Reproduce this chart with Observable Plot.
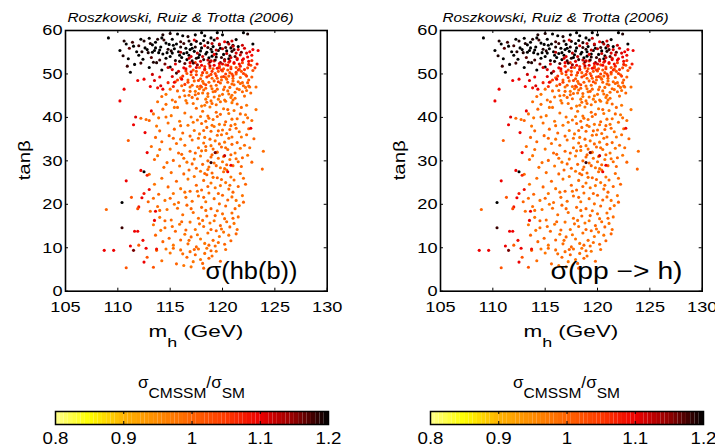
<!DOCTYPE html>
<html><head><meta charset="utf-8">
<script src="https://cdn.jsdelivr.net/npm/d3@7"></script>
<script src="https://cdn.jsdelivr.net/npm/@observablehq/plot@0.6"></script>
<style>
body{margin:0;background:#fff;}
#root{position:relative;width:715px;height:447px;overflow:hidden;}
#root > div{position:absolute;top:0;}
#root svg{overflow:visible;font-family:"Liberation Sans";}
#root svg text{font-family:"Liberation Sans";}
</style></head><body><div id="root"></div>
<script>
const xTicks = [105,110,115,120,125,130];
const yTicks = [0,10,20,30,40,50,60];
const cbTicks = [0.8,0.9,1,1.1,1.2];
const cbStops = [0.8,0.85,0.9,1.0,1.05,1.1,1.15,1.2];
const cbColors = ["#ffff8c","#ffff00","#ffb400","#ff6400","#ff3a00","#ee0000","#930000","#000000"];
const credit = "Roszkowski, Ruiz & Trotta (2006)";
const panelLabels = ["σ(hb(b))","σ(pp −> h)"];

// [m_h (GeV), tanβ, σ_CMSSM/σ_SM]
const orangePts = [
[116.3,46.2,1.0],[116.8,45.1,0.99],[117.1,47.4,1.01],[117.4,46.0,0.98],[117.6,44.3,1.0],[117.9,48.9,1.02],[118.1,45.6,0.99],[118.2,47.8,1.0],[118.4,46.7,1.01],[118.6,44.8,0.98],
[118.7,49.6,1.02],[118.9,47.2,1.0],[119.1,45.9,0.99],[119.2,48.4,1.01],[119.3,50.1,1.03],[119.5,46.5,1.0],[119.6,44.2,0.98],[119.8,47.9,1.01],[119.9,49.3,1.02],[120.0,45.3,0.99],
[120.1,51.2,1.03],[120.2,47.0,1.0],[120.4,48.8,1.01],[120.5,46.1,0.99],[120.7,50.3,1.02],[120.8,44.6,0.98],[120.9,47.7,1.0],[121.0,49.0,1.01],[121.2,45.8,0.99],[121.3,51.5,1.03],
[121.5,48.2,1.0],[121.6,46.4,0.99],[121.8,50.6,1.02],[122.0,47.3,1.0],[122.2,49.8,1.01],[122.4,51.4,1.03],[122.6,47.0,0.99],[122.9,50.8,1.02],[117.0,49.8,1.01],[117.5,50.6,1.02],
[118.3,50.9,1.02],[118.8,51.4,1.03],[119.7,51.8,1.03],[120.3,52.1,1.04],[121.1,52.4,1.04],[121.9,52.6,1.04],[116.6,50.1,1.02],[116.0,49.1,1.01],[115.5,48.2,1.0],[115.0,46.5,0.99],
[114.6,45.3,0.98],[115.9,44.7,0.99],[116.5,43.9,0.98],[117.2,43.2,0.99],[118.0,42.6,0.98],[118.5,43.5,1.0],[119.4,42.9,0.99],[120.3,43.7,0.98],[121.4,43.1,1.0],[122.1,44.9,0.99],
[122.7,45.6,1.0],[123.2,47.0,0.99],[120.6,49.5,1.01],[119.0,49.0,1.0],[118.0,49.7,1.01],[121.7,49.2,1.0],[120.0,50.7,1.02],[117.8,51.5,1.03],[122.3,46.2,0.99],[121.1,47.5,1.0],
[119.9,48.6,1.0],[118.7,48.1,1.01],[117.3,48.4,1.0],[116.9,47.0,0.99],[118.2,46.3,1.0],[119.4,47.4,1.0],[120.6,45.4,0.99],[121.9,45.9,1.0],[119.7,45.0,0.98],[118.9,43.8,0.99],
[120.9,43.4,0.98],[117.7,45.5,1.0],[116.1,47.3,1.0],[122.5,48.6,1.01],[121.4,46.6,1.0],[120.2,44.0,0.99],[118.4,44.2,0.98],[117.2,50.9,1.02],[118.5,50.3,1.01],[119.6,50.6,1.02],
[120.8,51.6,1.03],[121.6,51.1,1.02],[122.7,52.0,1.03],[119.1,51.2,1.02],[120.5,50.9,1.02],[121.3,50.0,1.01],[118.1,48.3,1.0],[119.5,49.0,1.01],[120.3,49.2,1.0],[121.9,48.0,1.0],
[117.6,47.1,1.0],[119.0,46.6,0.99],[120.7,46.9,1.0],[122.2,46.9,0.99],[116.7,48.6,1.01],[115.2,44.0,0.99],[115.4,42.3,0.98],[114.2,44.8,1.0],[113.8,43.6,0.99],[122.5,47.2,1.0],
[116.9,46.0,1.0],[117.8,46.6,0.99],[118.6,45.5,1.0],[119.3,46.0,1.01],[120.1,46.4,1.0],[120.9,45.1,0.99],[121.7,47.8,1.0],[122.4,48.0,1.01],[119.8,43.6,0.99],[118.3,42.8,0.98],
[117.1,44.6,1.0],[121.2,44.4,0.99],[117.4,45.2,1.0],[119.2,44.7,0.99],[120.5,48.1,1.01],[121.0,48.4,1.0],[118.0,47.0,1.0],[122.8,49.3,1.01],[116.4,45.0,0.99],[115.7,46.1,1.0],
// tanβ 35-43
[113.4,40.8,0.99],[113.9,39.9,0.98],[114.3,41.9,1.0],[114.8,38.7,0.99],[115.1,40.4,0.98],[115.4,37.3,1.0],[115.7,42.3,0.99],[115.9,39.1,0.98],[116.2,36.4,1.0],[116.4,41.0,0.99],
[116.7,38.2,0.98],[116.9,35.7,1.0],[117.0,40.1,0.99],[117.3,37.0,0.98],[117.5,42.1,1.0],[117.6,39.4,0.99],[117.8,36.2,0.98],[118.0,38.6,1.0],[118.1,41.4,0.99],[118.3,35.4,0.98],
[118.5,37.7,1.0],[118.6,40.3,0.99],[118.8,42.4,0.98],[118.9,36.8,1.0],[119.1,39.5,0.99],[119.2,37.9,0.98],[119.4,41.2,1.0],[119.5,35.9,0.99],[119.7,38.4,0.98],[119.8,40.7,1.0],
[120.0,37.1,0.99],[120.1,42.0,0.98],[120.3,39.0,1.0],[120.4,36.3,0.99],[120.6,40.9,0.98],[120.8,38.1,1.0],[120.9,35.5,0.99],[121.1,41.6,0.98],[121.3,37.5,1.0],[121.4,39.7,0.99],
[121.6,36.7,0.98],[121.8,42.3,1.0],[122.0,38.9,0.99],[122.2,40.6,0.98],[122.5,37.4,1.0],[122.8,39.3,0.99],[123.2,41.8,0.98],[114.0,36.9,1.0],[114.6,43.0,0.99],[113.7,38.0,0.98],
[115.5,43.6,1.0],[116.6,43.3,0.99],[117.9,40.2,0.98],[119.0,43.2,1.0],[121.0,44.0,0.99],[122.3,42.8,0.98],[115.3,35.2,1.0],[116.0,38.1,0.99],[117.2,38.9,0.98],[118.4,39.1,1.0],
[119.9,36.0,0.99],[121.2,38.4,0.98],[120.5,41.8,1.0],[122.3,36.0,0.99],[112.2,39.8,1.0],[112.7,39.5,0.99],[113.0,39.3,1.0],[114.6,40.1,0.99],[111.0,34.7,1.01],[113.6,35.4,1.0],
[118.2,37.0,1.0],[119.0,38.2,0.99],[119.6,36.9,1.0],[120.2,38.3,0.99],[120.7,37.2,1.0],[118.7,39.8,0.99],[119.5,40.2,1.0],[120.9,39.6,0.99],[121.7,40.8,1.0],[117.7,35.2,0.99],
[123.0,35.1,1.0],[122.4,39.9,0.99],[114.9,35.8,1.0],
// tanβ 28-35
[113.2,33.3,0.99],[113.8,31.2,0.98],[114.2,34.4,1.0],[114.7,29.6,0.99],[115.0,32.7,0.98],[115.3,30.1,1.0],[115.6,34.0,0.99],[115.9,28.8,0.98],[116.1,31.5,1.0],[116.4,33.6,0.99],
[116.6,29.7,0.98],[116.9,32.2,1.0],[117.1,34.8,0.99],[117.3,30.4,0.98],[117.5,28.3,1.0],[117.7,33.0,0.99],[117.9,31.1,0.98],[118.1,29.2,1.0],[118.2,34.1,0.99],[118.4,32.4,0.98],
[118.6,30.0,1.0],[118.7,28.6,0.99],[118.9,33.5,0.98],[119.0,31.4,1.0],[119.2,29.5,0.99],[119.3,34.6,0.98],[119.5,32.0,1.0],[119.6,30.6,0.99],[119.8,28.4,0.98],[119.9,33.2,1.0],
[120.1,31.0,0.99],[120.2,34.3,0.98],[120.4,29.1,1.0],[120.5,32.6,0.99],[120.7,30.3,0.98],[120.9,33.8,1.0],[121.0,28.9,0.99],[121.2,31.8,0.98],[121.4,34.2,1.0],[121.5,29.8,0.99],
[121.7,32.9,0.98],[121.9,30.7,1.0],[122.1,33.6,0.99],[122.4,31.3,0.98],[122.8,29.7,1.0],[123.9,32.2,0.99],[123.8,28.1,1.0],[114.4,28.5,0.99],[116.0,35.0,0.98],[118.8,35.0,1.0],
[120.6,35.2,0.99],[121.8,35.5,0.98],[117.4,31.8,1.0],[119.4,31.9,0.99],[120.0,29.8,0.98],[113.5,30.3,1.0],[114.0,32.6,0.99],[118.4,33.3,1.0],[119.1,32.7,0.99],[119.7,33.9,1.0],
[120.3,33.0,0.99],[120.8,31.4,1.0],[121.3,30.5,0.99],[118.9,30.9,1.0],[118.0,32.3,0.99],[117.1,29.3,1.0],[116.3,30.6,0.99],[119.4,28.9,1.0],[120.2,28.2,0.99],[121.8,28.7,1.0],
[122.6,33.0,0.99],[115.8,31.8,1.0],
// tanβ 20-28
[113.0,26.9,0.99],[113.5,24.6,0.98],[113.9,22.3,1.0],[114.2,26.0,0.99],[114.5,20.9,0.98],[114.8,24.0,1.0],[115.1,27.3,0.99],[115.3,22.5,0.98],[115.6,25.3,1.0],[115.8,20.4,0.99],
[116.0,23.6,0.98],[116.3,27.0,1.0],[116.5,21.6,0.99],[116.7,25.8,0.98],[116.9,23.0,1.0],[117.1,20.7,0.99],[117.3,26.4,0.98],[117.5,24.4,1.0],[117.7,21.9,0.99],[117.9,27.6,0.98],
[118.0,23.3,1.0],[118.2,25.5,0.99],[118.4,20.6,0.98],[118.5,26.8,1.0],[118.7,22.6,0.99],[118.9,24.9,0.98],[119.0,27.2,1.0],[119.2,21.3,0.99],[119.3,23.8,0.98],[119.5,26.1,1.0],
[119.7,20.1,0.99],[119.8,24.3,0.98],[120.0,22.1,1.0],[120.1,27.5,0.99],[120.3,25.0,0.98],[120.5,21.0,1.0],[120.6,23.5,0.99],[120.8,26.3,0.98],[121.0,22.8,1.0],[121.1,25.6,0.99],
[121.3,20.9,0.98],[121.5,24.1,1.0],[121.7,27.1,0.99],[121.9,22.0,0.98],[122.2,24.6,1.0],[113.4,21.4,0.99],[115.4,20.0,0.98],[116.8,27.9,1.0],[118.6,28.0,0.99],[120.4,27.9,0.98],
[122.0,20.5,1.0],[112.9,20.6,1.0],[114.0,18.6,0.99],[118.3,27.1,1.0],[119.1,26.2,0.99],[119.9,25.7,1.0],[120.7,24.4,0.99],[118.6,24.1,1.0],[117.6,23.0,0.99],[119.6,22.5,1.0],
[120.9,21.7,0.99],[118.2,21.6,1.0],[116.4,22.8,0.99],[115.0,21.4,1.0],[122.0,26.0,0.99],
// tanβ 10-20
[113.1,18.4,0.99],[113.4,15.3,0.98],[113.6,12.9,1.0],[113.8,19.5,0.99],[114.0,17.0,0.98],[114.3,11.4,1.0],[114.5,14.6,0.99],[114.7,18.8,0.98],[114.9,12.2,1.0],[115.1,16.4,0.99],
[115.3,10.6,0.98],[115.5,13.8,1.0],[115.7,19.1,0.99],[115.9,15.4,0.98],[116.0,11.8,1.0],[116.2,17.6,0.99],[116.4,13.1,0.98],[116.6,19.8,1.0],[116.7,10.9,0.99],[116.9,15.9,0.98],
[117.0,12.5,1.0],[117.2,18.1,0.99],[117.4,14.2,0.98],[117.5,10.2,1.0],[117.7,16.8,0.99],[117.9,12.0,0.98],[118.0,19.3,1.0],[118.2,14.9,0.99],[118.3,11.0,0.98],[118.5,17.3,1.0],
[118.6,13.4,0.99],[118.8,15.7,0.98],[118.9,19.0,1.0],[119.1,11.7,0.99],[119.2,16.2,0.98],[119.4,13.9,1.0],[119.5,18.5,0.99],[119.7,12.6,0.98],[119.8,15.1,1.0],[120.0,17.8,0.99],
[120.1,13.6,0.98],[120.3,19.6,1.0],[120.4,16.0,0.99],[120.6,12.9,0.98],[120.7,14.8,1.0],[120.9,18.0,0.99],[121.1,15.6,0.98],[121.3,13.2,1.0],[121.5,17.1,0.99],[121.6,19.7,0.98],
[120.2,10.8,1.0],[119.3,10.4,0.99],[114.1,14.0,0.98],[116.1,16.0,1.0],[118.1,16.3,0.99],[117.6,13.0,0.98],[117.0,19.0,1.0],[118.4,18.6,0.99],[119.3,17.4,1.0],[120.2,16.7,0.99],
[121.0,16.8,1.0],[119.9,14.3,0.99],[118.9,14.2,1.0],[117.8,15.5,0.99],[116.5,14.1,1.0],[115.2,14.9,0.99],[114.5,16.2,1.0],[116.8,11.7,0.99],[118.7,10.6,1.0],[119.6,11.2,0.99],
[120.8,11.6,1.0],[121.4,14.2,0.99],[121.2,19.0,1.0],
// tanβ 5-10
[113.7,9.4,1.0],[114.2,7.0,0.99],[115.0,8.8,0.98],[115.6,6.3,1.0],[116.0,9.5,0.99],[116.3,5.9,0.98],[116.6,7.8,1.0],[116.9,9.1,0.99],[117.2,6.8,0.98],[117.4,8.4,1.0],
[117.7,9.7,0.99],[117.9,7.3,0.98],[118.1,6.4,1.0],[118.3,8.7,0.99],[118.5,9.9,0.98],[118.7,7.6,1.0],[119.0,8.1,0.99],[119.4,9.2,0.98],[119.8,6.9,1.0],[120.3,9.6,0.99],
[117.0,5.6,0.98],[118.2,5.3,1.0],[115.3,9.9,0.99],[114.6,9.7,0.98],[117.3,9.6,1.0],[116.2,8.6,0.99],[118.9,9.3,1.0]
];

const orangeRedPts = [
[115.7,48.6,1.05],[116.2,49.5,1.06],[116.7,48.1,1.04],[117.2,49.2,1.05],[117.7,48.5,1.04],[118.1,50.3,1.06],[118.5,49.3,1.05],[119.0,50.6,1.06],[119.4,49.6,1.05],[119.9,50.9,1.06],
[120.3,50.0,1.05],[120.8,51.2,1.06],[121.3,50.4,1.05],[121.7,51.8,1.07],[122.1,51.0,1.06],[122.5,52.2,1.07],[116.9,51.8,1.07],[118.7,52.4,1.07],[120.6,52.7,1.07],[117.9,47.2,1.04],
[119.6,48.2,1.04],[121.0,49.6,1.05],[122.0,50.1,1.05],[118.4,47.5,1.04],[116.4,47.6,1.05],[115.3,47.1,1.06],[114.8,48.0,1.07],[117.4,52.6,1.06],[119.2,53.0,1.07],[121.4,53.6,1.07],
[122.8,53.1,1.06],[123.1,51.4,1.05],[117.5,49.8,1.05],[118.9,49.9,1.04],[120.1,49.4,1.05],[121.5,50.9,1.06],[122.3,49.5,1.05],[119.7,51.4,1.06],[118.3,51.7,1.06],[120.9,50.0,1.04],
[116.5,50.7,1.05]
];

const blackPts = [
[109.1,58.3,1.2],[110.6,57.6,1.19],[110.8,56.9,1.2],[111.4,57.3,1.18],[110.2,55.4,1.2],[110.5,54.2,1.19],[111.0,53.5,1.2],[111.1,55.9,1.17],[111.8,55.1,1.2],[112.2,58.0,1.2],
[112.5,57.6,1.19],[113.0,58.2,1.2],[112.0,56.5,1.18],[112.6,56.0,1.2],[112.9,54.9,1.19],[113.3,56.7,1.2],[113.5,55.4,1.2],[113.2,53.8,1.17],[113.8,58.0,1.19],[114.1,56.2,1.2],
[114.3,54.6,1.2],[114.0,53.2,1.18],[114.6,57.1,1.2],[114.8,55.7,1.19],[115.0,54.0,1.2],[114.5,52.3,1.16],[115.3,56.6,1.2],[115.5,53.1,1.19],[115.7,59.2,1.2],[115.8,55.1,1.2],
[116.0,57.4,1.18],[116.2,58.8,1.2],[116.1,53.8,1.2],[116.4,52.4,1.17],[116.5,55.9,1.2],[116.7,58.6,1.19],[116.8,54.3,1.2],[117.0,56.8,1.2],[117.1,53.0,1.18],[117.3,55.2,1.2],
[117.5,57.5,1.19],[117.6,52.1,1.15],[117.8,54.4,1.2],[118.0,59.5,1.2],[118.0,56.0,1.2],[118.2,53.3,1.18],[118.3,58.8,1.2],[118.5,55.0,1.2],[118.6,57.2,1.19],[118.8,52.8,1.17],
[119.0,54.1,1.2],[119.1,56.3,1.2],[119.3,53.2,1.18],[119.5,59.5,1.2],[119.6,55.4,1.19],[119.8,52.6,1.16],[120.0,59.0,1.2],[120.1,54.5,1.2],[120.3,56.1,1.18],[120.6,53.5,1.2],
[120.9,55.2,1.19],[121.2,54.0,1.17],[121.5,56.3,1.2],[122.0,59.5,1.2],[122.4,59.2,1.19],[122.9,56.9,1.2],[111.2,50.4,1.2],[112.2,52.5,1.18],[113.0,51.5,1.2],[113.7,52.6,1.19],
[114.2,50.9,1.2],[115.0,51.6,1.2],[115.6,50.2,1.18],[112.0,54.3,1.2],[113.6,57.3,1.2],[115.2,58.0,1.2],[114.3,59.0,1.19],[114.6,53.6,1.2],[115.2,54.8,1.2],[115.9,52.9,1.19],
[116.3,54.7,1.2],[116.9,55.6,1.2],[117.2,52.5,1.18],[117.7,53.8,1.2],[118.4,54.6,1.2],[118.9,55.7,1.19],[119.4,54.6,1.2],[119.9,53.8,1.18],[120.4,55.3,1.2],[120.7,54.2,1.19],
[116.6,53.3,1.2],[115.4,55.8,1.2],[117.4,56.2,1.19],[118.7,53.7,1.2],[119.7,56.7,1.18],[121.0,56.6,1.2],[121.8,55.0,1.17],[114.9,56.8,1.2],[113.9,54.9,1.2],[116.0,56.2,1.19],
[117.9,57.0,1.2],[119.2,57.8,1.2],[120.5,57.3,1.19],[121.3,57.9,1.2],[112.4,53.4,1.2],[113.4,52.7,1.19],[111.6,52.2,1.2],[110.9,51.8,1.18],[112.8,55.6,1.2],[113.1,57.0,1.19],
[113.6,56.0,1.2],[114.0,55.5,1.2],[114.4,57.8,1.18],[114.7,54.9,1.2],[115.1,55.3,1.19],[115.6,56.9,1.2],[115.9,54.3,1.2],[116.3,57.0,1.18],[116.6,54.9,1.2],[117.1,55.9,1.2],
[117.5,53.6,1.19],[117.9,55.3,1.2],[118.2,57.7,1.2],[118.6,56.1,1.18],[119.0,55.1,1.2],[119.4,53.9,1.19],[119.8,55.9,1.2],[120.2,53.3,1.17],[120.8,56.0,1.2],[121.1,55.6,1.18],
[113.3,55.0,1.2],[112.3,55.1,1.19],[111.5,56.4,1.2],[114.2,58.3,1.2],[116.8,57.6,1.19],[118.9,58.3,1.2],[117.4,59.0,1.2],[115.0,59.3,1.19]
];

const redPts = [
[116.5,51.2,1.1],[117.0,50.5,1.09],[117.5,51.5,1.11],[118.0,52.0,1.1],[118.3,51.1,1.09],[118.8,51.9,1.12],[119.2,52.0,1.1],[119.5,51.3,1.09],[120.0,52.3,1.11],[120.2,53.0,1.12],
[120.5,52.0,1.1],[120.8,53.8,1.12],[121.1,52.6,1.1],[121.4,53.3,1.11],[121.7,54.4,1.12],[122.0,53.5,1.1],[122.3,54.8,1.11],[122.6,55.1,1.1],[122.8,54.3,1.09],[123.3,52.3,1.08],
[121.0,56.4,1.12],[121.5,55.6,1.11],[120.6,56.9,1.13],[119.7,56.9,1.12],[120.2,57.4,1.1],[119.0,57.0,1.13],[118.3,56.5,1.12],[117.3,57.8,1.11],[116.0,55.0,1.13],[116.8,53.6,1.12],
[117.6,54.8,1.13],[118.6,53.2,1.12],[119.4,55.5,1.13],[120.4,54.7,1.12],[115.5,52.3,1.11],[114.8,51.5,1.12],[114.0,49.3,1.1],[113.5,48.5,1.11],[112.5,48.8,1.1],[113.1,47.1,1.1],
[113.8,46.8,1.09],[114.3,46.5,1.1],[114.1,47.3,1.11],[115.4,48.1,1.1],[110.6,46.5,1.1],[110.2,43.8,1.1],[111.7,40.1,1.11],[111.5,38.3,1.1],[112.6,36.5,1.1],[113.3,49.9,1.12],
[115.2,49.4,1.11],[111.9,48.5,1.1],[116.1,48.8,1.1],[115.8,50.6,1.12],[122.1,55.9,1.11],[121.9,53.2,1.1],[122.5,52.9,1.09],[123.4,55.4,1.1],[112.8,31.9,1.1],[122.7,37.5,1.1],
[119.3,31.9,1.16],[120.2,31.2,1.12],[118.9,29.6,1.18],[120.8,29.0,1.1],[120.5,27.5,1.1],[113.2,41.5,1.1],[117.0,54.0,1.11],[118.1,54.0,1.12],[119.2,54.5,1.1],[120.0,55.8,1.13],
[121.3,54.8,1.11],[121.9,56.6,1.12],[122.4,53.9,1.1],[120.7,53.0,1.11],[119.7,52.4,1.1],[118.9,53.0,1.12],[117.9,52.9,1.11],[116.9,52.6,1.1],[121.6,52.3,1.09],[122.9,55.6,1.1],
[120.9,57.6,1.12],[119.5,58.2,1.13],[116.3,51.4,1.1],[115.2,51.0,1.11]
];

const lowMassPts = [
[108.7,9.4,1.1],[109.6,9.4,1.1],[108.9,18.8,1.0],[110.4,20.4,1.2],[110.4,14.6,1.18],[110.8,25.4,1.1],[110.8,5.4,1.02],[111.5,9.4,1.16],[111.2,10.4,1.1],[111.6,13.8,1.1],
[111.9,13.8,1.1],[112.0,19.4,1.08],[112.2,27.8,1.1],[112.5,27.5,1.2],[112.3,21.5,1.1],[112.5,22.5,1.08],[112.8,26.7,1.07],[112.5,6.7,1.1],[112.4,11.7,1.09],[112.7,9.9,1.1],
[112.8,7.8,1.02],[113.4,5.5,1.02],[113.5,16.3,1.1],[113.0,23.4,1.09],[111.9,19.0,1.03],[113.6,18.4,1.1],[113.7,9.7,1.09],[111.3,21.6,1.02],[112.0,10.6,1.01]
];

const points = [...orangePts, ...orangeRedPts, ...blackPts, ...redPts, ...lowMassPts];

const colorScale = {type: "linear", domain: cbStops, range: cbColors, interpolate: "rgb"};
const baseStyle = {fontFamily: "Liberation Sans", fontSize: "15.5px", color: "#000", background: "transparent", overflow: "visible"};
const STRETCH = 1.17; // the reference's lettering is wider than Helvetica

const root = document.getElementById("root");

function mount(chart, left, top) {
  const div = document.createElement("div");
  div.style.left = left + "px";
  div.style.top = top + "px";
  div.appendChild(chart);
  root.appendChild(div);
}
// stretch Plot's own texts horizontally (fixed width where given)
function widen(chart, targets) {
  for (const t of chart.querySelectorAll("text")) {
    if (t.dataset.own) continue;
    const w = t.getComputedTextLength();
    if (!(w > 0)) continue;
    const target = targets[t.textContent] ?? w * STRETCH;
    t.setAttribute("textLength", target.toFixed(1));
    t.setAttribute("lengthAdjust", "spacingAndGlyphs");
  }
}
function fit(sel, transform, target) {
  const w = sel.node().getComputedTextLength();
  sel.attr("transform", `${transform} scale(${(target / w).toFixed(4)},1)`);
}

// labelX: left edge of the in-plot label, measured from the panel's plot frame
function panel(label, left, width, mr, labelX, labelW) {
  const H = 350, mt = 30, mb = 59.3, ml = 65;
  const innerH = H - mt - mb, innerW = width - ml - mr;
  const chart = Plot.plot({
    width, height: H, marginTop: mt, marginBottom: mb, marginLeft: ml, marginRight: mr,
    style: baseStyle,
    x: {domain: [105, 130], label: null},
    y: {domain: [0, 60], label: null},
    color: colorScale,
    marks: [
      Plot.dot(points, {x: d => d[0], y: d => d[1], fill: d => d[2], r: 1.55}),
      Plot.axisX(xTicks, {tickSize: 0, tickPadding: 10, fontSize: 15.5, label: null}),
      Plot.axisY(yTicks, {tickSize: 0, tickPadding: 3, fontSize: 15.5, label: null}),
      Plot.ruleX(xTicks, {insetTop: innerH - 3}),
      Plot.ruleX(xTicks, {insetBottom: innerH - 3}),
      Plot.ruleY(yTicks, {insetRight: innerW - 3}),
      Plot.ruleY(yTicks, {insetLeft: innerW - 3}),
      Plot.frame({strokeWidth: 1.6}),
      Plot.text([label], {frameAnchor: "bottom-left", dx: labelX, dy: -12.7, fontSize: 23, textAnchor: "start", lineAnchor: "bottom"}),
      Plot.text([credit], {frameAnchor: "top-left", dx: 2, dy: -8.3, fontSize: 12.6, fontStyle: "italic", textAnchor: "start", lineAnchor: "bottom"})
    ]
  });
  mount(chart, left, 0);
  widen(chart, {[label]: labelW, [credit]: 226});
  const svg = d3.select(chart);
  const xl = svg.append("text").attr("data-own", 1).attr("text-anchor", "middle").attr("font-size", 17).attr("fill", "#000");
  xl.append("tspan").text("m");
  xl.append("tspan").attr("font-size", 13.5).attr("dy", 10).text("h");
  xl.append("tspan").attr("dy", -10).text(" (GeV)");
  fit(xl, `translate(${ml + innerW / 2},337)`, 95);
  const yl = svg.append("text").attr("data-own", 1).attr("text-anchor", "middle").attr("font-size", 17).attr("fill", "#000").text("tanβ");
  fit(yl, `translate(30,${mt + innerH / 2}) rotate(-90)`, 40);
}

function colorbar(left, width, ml, mr) {
  const H = 87, mt = 51, mb = 23;
  const n = 64, step = (cbStops[cbStops.length - 1] - cbStops[0]) / n;
  const levels = d3.range(n).map(i => cbStops[0] + i * step);
  const chart = Plot.plot({
    width, height: H, marginTop: mt, marginBottom: mb, marginLeft: ml, marginRight: mr,
    style: baseStyle,
    x: {domain: [0.8, 1.2], label: null},
    y: {axis: null},
    color: colorScale,
    marks: [
      Plot.rectX(levels, {x1: d => d, x2: d => d + step, fill: d => d + step / 2}),
      Plot.axisX(cbTicks, {tickSize: 0, tickPadding: 8, fontSize: 16, tickFormat: d => String(d), label: null}),
      Plot.ruleX(cbTicks, {insetTop: 10}),
      Plot.ruleX(cbTicks, {insetBottom: 10}),
      Plot.frame({strokeWidth: 1.5})
    ]
  });
  mount(chart, left, 360);
  widen(chart, {});
  const svg = d3.select(chart);
  const innerW = width - ml - mr;
  const t = svg.append("text").attr("data-own", 1).attr("text-anchor", "middle").attr("font-size", 16).attr("fill", "#000");
  t.append("tspan").text("σ");
  t.append("tspan").attr("font-size", 14.5).attr("dy", 10).text("CMSSM");
  t.append("tspan").attr("dy", -10).text("/σ");
  t.append("tspan").attr("font-size", 14.5).attr("dy", 10).text("SM");
  fit(t, `translate(${ml + innerW / 2},28)`, 107);
}

panel(panelLabels[0], 0, 357, 30.3, 140, 92);
panel(panelLabels[1], 375, 340, 13.3, 110, 132);
colorbar(0, 357, 55, 29);
colorbar(375, 340, 55, 12);
</script>
</body></html>
